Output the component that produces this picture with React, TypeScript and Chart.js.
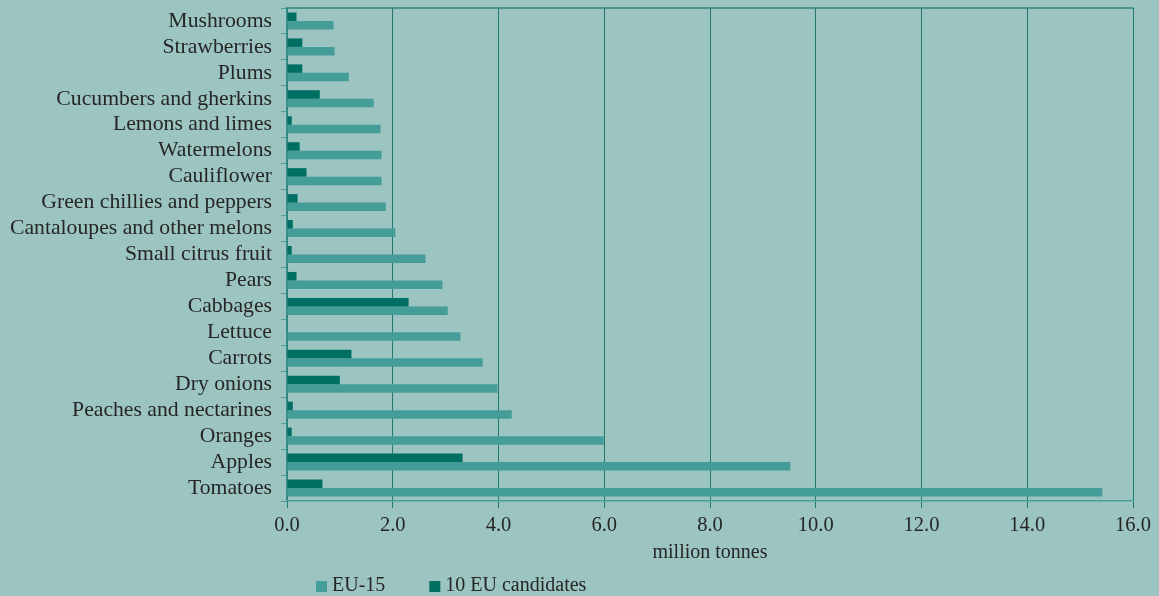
import React, { useEffect, useRef } from "react";
import { Chart, registerables } from "chart.js";

Chart.register(...registerables);

const categories = [
  "Mushrooms",
  "Strawberries",
  "Plums",
  "Cucumbers and gherkins",
  "Lemons and limes",
  "Watermelons",
  "Cauliflower",
  "Green chillies and peppers",
  "Cantaloupes and other melons",
  "Small citrus fruit",
  "Pears",
  "Cabbages",
  "Lettuce",
  "Carrots",
  "Dry onions",
  "Peaches and nectarines",
  "Oranges",
  "Apples",
  "Tomatoes",
];

const eu15 = [
  0.88, 0.9, 1.17, 1.64, 1.77, 1.79, 1.79, 1.87, 2.05, 2.62, 2.94, 3.04, 3.28,
  3.7, 3.98, 4.25, 5.99, 9.52, 15.42,
];

const candidates10 = [
  0.18, 0.29, 0.29, 0.62, 0.09, 0.24, 0.37, 0.2, 0.11, 0.09, 0.18, 2.3, 0,
  1.22, 1.0, 0.11, 0.09, 3.32, 0.67,
];

const xTickLabels = ["0.0", "2.0", "4.0", "6.0", "8.0", "10.0", "12.0", "14.0", "16.0"];

const seriesNames = ["EU-15", "10 EU candidates"];
const xAxisTitle = "million tonnes";

const BG = "#9cc5c1";
const LIGHT = "#459d99";
const DARK = "#006f63";
const GRID = "#227870";
const TEXT = "#262626";
const FONT = '"Liberation Serif", "Times New Roman", serif';

const legendPlugin = {
  id: "customLegend",
  afterDraw(chart: any) {
    const ctx = chart.ctx;
    ctx.save();
    ctx.font = `20px ${FONT}`;
    ctx.textBaseline = "alphabetic";
    let x = 316;
    // legend shows EU-15 first (dataset 1), then candidates (dataset 0)
    [1, 0].forEach((i) => {
      const ds = chart.data.datasets[i];
      ctx.fillStyle = ds.backgroundColor;
      ctx.fillRect(x, 581, 11, 11);
      ctx.fillStyle = TEXT;
      ctx.fillText(ds.label, x + 16, 591);
      x += 16 + ctx.measureText(ds.label).width + 44;
    });
    // top border of plot area
    const a = chart.chartArea;
    ctx.strokeStyle = "#2f877f";
    ctx.lineWidth = 1.5;
    ctx.beginPath();
    ctx.moveTo(a.left, a.top);
    ctx.lineTo(a.right, a.top);
    ctx.stroke();
    ctx.restore();
  },
};

export default function App() {
  const ref = useRef<HTMLCanvasElement | null>(null);

  useEffect(() => {
    document.body.style.margin = "0";
    document.body.style.background = BG;
    if (!ref.current) return;
    const chart = new Chart(ref.current, {
      type: "bar",
      data: {
        labels: categories,
        datasets: [
          {
            label: seriesNames[1],
            data: candidates10,
            backgroundColor: DARK,
            borderWidth: 0,
            categoryPercentage: 0.655,
            barPercentage: 1.0,
          },
          {
            label: seriesNames[0],
            data: eu15,
            backgroundColor: LIGHT,
            borderWidth: 0,
            categoryPercentage: 0.655,
            barPercentage: 1.0,
          },
        ],
      },
      options: {
        indexAxis: "y",
        animation: false,
        responsive: true,
        maintainAspectRatio: false,
        layout: { padding: { top: 8, right: 26, bottom: 25, left: 0 } },
        plugins: {
          legend: { display: false },
          tooltip: { enabled: false },
        },
        scales: {
          x: {
            type: "linear",
            min: 0,
            max: 16,
            z: 1,
            ticks: {
              stepSize: 2,
              padding: 5,
              color: TEXT,
              font: { family: FONT, size: 20.5 },
              callback: (_v: any, i: number) => xTickLabels[i],
            },
            grid: {
              color: GRID,
              lineWidth: 1,
              drawTicks: true,
              tickLength: 7,
            },
            border: { display: true, color: "#4a9e97", width: 1.5 },
            title: {
              display: true,
              text: xAxisTitle,
              color: TEXT,
              font: { family: FONT, size: 20 },
              padding: { top: 0, bottom: 6 },
            },
            afterFit: (s: any) => {
              s.height = 70;
              s.paddingLeft = 0;
            },
          },
          y: {
            type: "category",
            ticks: {
              padding: 9,
              color: TEXT,
              autoSkip: false,
              font: { family: FONT, size: 21.7 },
            },
            grid: {
              drawOnChartArea: false,
              drawTicks: true,
              tickLength: 6,
              color: "#4f9f99",
              offset: true,
            },
            border: { display: true, color: "#3a9088", width: 1.5 },
            afterFit: (s: any) => {
              s.width = 287;
              s.paddingTop = 0;
              s.paddingBottom = 0;
            },
          },
        },
      },
      plugins: [legendPlugin],
    });
    return () => chart.destroy();
  }, []);

  return (
    <div style={{ width: 1159, height: 596, background: BG, position: "relative" }}>
      <canvas ref={ref} />
    </div>
  );
}
